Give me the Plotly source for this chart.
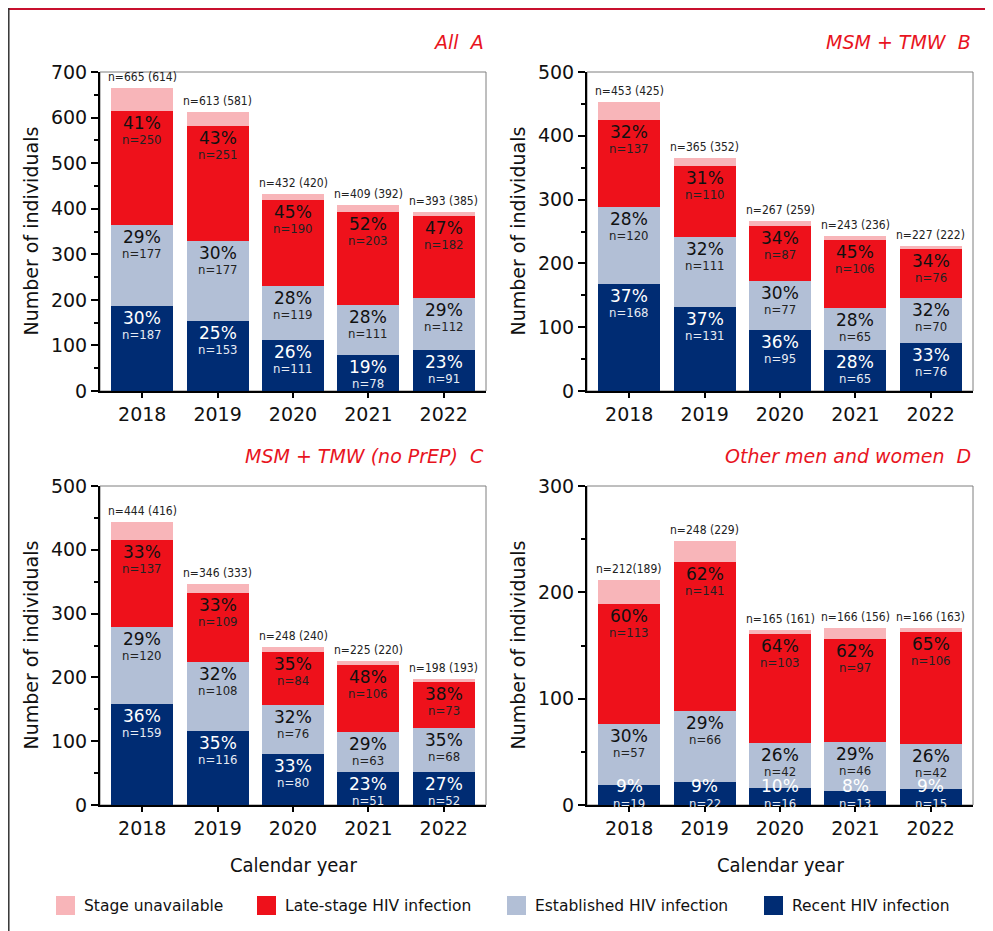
import plotly.graph_objects as go
from plotly.subplots import make_subplots

years = ["2018", "2019", "2020", "2021", "2022"]

# panel A: All
recent_a = [187, 153, 111, 78, 91]
estab_a = [177, 177, 119, 111, 112]
late_a = [250, 251, 190, 203, 182]
total_a = [665, 613, 432, 409, 393]
pct_recent_a = [30, 25, 26, 19, 23]
pct_estab_a = [29, 30, 28, 28, 29]
pct_late_a = [41, 43, 45, 52, 47]

# panel B: MSM + TMW
recent_b = [168, 131, 95, 65, 76]
estab_b = [120, 111, 77, 65, 70]
late_b = [137, 110, 87, 106, 76]
total_b = [453, 365, 267, 243, 227]
pct_recent_b = [37, 37, 36, 28, 33]
pct_estab_b = [28, 32, 30, 28, 32]
pct_late_b = [32, 31, 34, 45, 34]

# panel C: MSM + TMW (no PrEP)
recent_c = [159, 116, 80, 51, 52]
estab_c = [120, 108, 76, 63, 68]
late_c = [137, 109, 84, 106, 73]
total_c = [444, 346, 248, 225, 198]
pct_recent_c = [36, 35, 33, 23, 27]
pct_estab_c = [29, 32, 32, 29, 35]
pct_late_c = [33, 33, 35, 48, 38]

# panel D: Other men and women
recent_d = [19, 22, 16, 13, 15]
estab_d = [57, 66, 42, 46, 42]
late_d = [113, 141, 103, 97, 106]
total_d = [212, 248, 165, 166, 166]
pct_recent_d = [9, 9, 10, 8, 9]
pct_estab_d = [30, 29, 26, 29, 26]
pct_late_d = [60, 62, 64, 62, 65]

panel_titles = ["All  A", "MSM + TMW  B", "MSM + TMW (no PrEP)  C", "Other men and women  D"]
y_max = [700, 500, 500, 300]
legend_names = ["Stage unavailable", "Late-stage HIV infection",
                "Established HIV infection", "Recent HIV infection"]

C_UNAV = "#F8B5B9"
C_LATE = "#EE111B"
C_EST = "#B2BFD6"
C_REC = "#002C73"
TITLE_RED = "#E8141E"
FONT = "DejaVu Sans"
COND = "DejaVu Sans Condensed, Liberation Sans Narrow, DejaVu Sans"

W, H = 993, 931
OFF = 8  # page body margin


def fx(px):
    return (px - OFF) / W


def fy(py):
    return 1 - (py - OFF) / H


panels = [
    (recent_a, estab_a, late_a, total_a, pct_recent_a, pct_estab_a, pct_late_a),
    (recent_b, estab_b, late_b, total_b, pct_recent_b, pct_estab_b, pct_late_b),
    (recent_c, estab_c, late_c, total_c, pct_recent_c, pct_estab_c, pct_late_c),
    (recent_d, estab_d, late_d, total_d, pct_recent_d, pct_estab_d, pct_late_d),
]

# pixel boxes of the four plot areas (screen coords): left, right, top, bottom
boxes = [(100, 486, 72, 391), (587, 973, 72, 391),
         (100, 486, 486, 805), (587, 973, 486, 805)]

fig = make_subplots(rows=2, cols=2)
annotations = []
shapes = []

for i, (rec, est, late, tot, p_rec, p_est, p_late) in enumerate(panels):
    row, col = i // 2 + 1, i % 2 + 1
    staged = [a + b + c for a, b, c in zip(rec, est, late)]
    unav = [t - s for t, s in zip(tot, staged)]
    for vals, color, name in [(rec, C_REC, legend_names[3]), (est, C_EST, legend_names[2]),
                              (late, C_LATE, legend_names[1]), (unav, C_UNAV, legend_names[0])]:
        fig.add_trace(go.Bar(x=years, y=vals, marker=dict(color=color, line=dict(width=0)),
                             width=0.82, name=name, showlegend=False), row=row, col=col)

    xr = "x" if i == 0 else "x%d" % (i + 1)
    yr = "y" if i == 0 else "y%d" % (i + 1)
    l, r, t, b = boxes[i]
    scale = (b - t) / y_max[i]

    for j in range(len(years)):
        base = 0
        for vals, pcts, pc, nc in [(rec, p_rec, "white", "#E6EBF3"),
                                   (est, p_est, "#111", "#222"),
                                   (late, p_late, "#111", "#222")]:
            v = vals[j]
            top = base + v
            if v * scale >= 30:
                annotations.append(dict(x=j, y=top, xref=xr, yref=yr, yanchor="top",
                                        yshift=-1, text="%d%%" % pcts[j], showarrow=False,
                                        borderpad=0,
                                        font=dict(family=FONT, size=17, color=pc)))
                annotations.append(dict(x=j, y=top, xref=xr, yref=yr, yanchor="top",
                                        yshift=-20, text="n=%d" % v, showarrow=False,
                                        borderpad=0,
                                        font=dict(family=COND, size=13, color=nc)))
            else:
                annotations.append(dict(x=j, y=base, xref=xr, yref=yr, yanchor="bottom",
                                        yshift=8, text="%d%%" % pcts[j], showarrow=False,
                                        borderpad=0,
                                        font=dict(family=FONT, size=17, color=pc)))
                annotations.append(dict(x=j, y=base, xref=xr, yref=yr, yanchor="bottom",
                                        yshift=-7, text="n=%d" % v, showarrow=False,
                                        borderpad=0,
                                        font=dict(family=COND, size=13, color=nc)))
            base = top
        sep = "" if (i == 3 and j == 0) else " "
        annotations.append(dict(x=j, y=tot[j], xref=xr, yref=yr, yanchor="bottom",
                                yshift=2, text="n=%d%s(%d)" % (tot[j], sep, staged[j]),
                                showarrow=False, font=dict(family=COND, size=12, color="#222")))

    # panel title
    annotations.append(dict(x=fx(r), y=fy(t - 30), xref="paper", yref="paper",
                            xanchor="right", yanchor="middle", text=panel_titles[i],
                            showarrow=False,
                            font=dict(family=FONT, size=19, color=TITLE_RED, style="italic")))
    # y axis title
    annotations.append(dict(x=fx(l - 70), y=fy((t + b) / 2), xref="paper", yref="paper",
                            xanchor="center", yanchor="middle", textangle=-90,
                            text="Number of individuals", showarrow=False,
                            font=dict(family=FONT, size=19, color="#111")))
    # grey frame
    shapes.append(dict(type="rect", xref=xr + " domain", yref=yr + " domain",
                       x0=0, x1=1, y0=0, y1=1, line=dict(color="#7F7F7F", width=1),
                       layer="below"))

    fig.update_xaxes(domain=[fx(l), fx(r)], range=[-0.56, 4.56], type="category",
                     showline=True, linecolor="black", linewidth=2, ticks="outside",
                     ticklen=5, tickwidth=1.5, tickcolor="black", showgrid=False,
                     tickfont=dict(family=FONT, size=19, color="#111"), automargin=False,
                     row=row, col=col)
    fig.update_yaxes(domain=[fy(b), fy(t)], range=[0, y_max[i]], dtick=100,
                     showline=True, linecolor="black", linewidth=2, ticks="outside",
                     ticklen=7, tickwidth=1.5, tickcolor="black", showgrid=False,
                     zeroline=False, tickfont=dict(family=FONT, size=19, color="#111"),
                     minor=dict(ticks="outside", ticklen=4, dtick=50, tickcolor="black",
                                showgrid=False),
                     automargin=False, row=row, col=col)

# x axis titles
for cx in [293, 780]:
    annotations.append(dict(x=fx(cx), y=fy(865), xref="paper", yref="paper",
                            xanchor="center", yanchor="middle",
                            text="Calendar year", showarrow=False,
                            font=dict(family=COND, size=20, color="#111")))

# legend
legend_colors = [C_UNAV, C_LATE, C_EST, C_REC]
legend_x = [56, 257, 507, 764]
for name, color, lx in zip(legend_names, legend_colors, legend_x):
    shapes.append(dict(type="rect", xref="paper", yref="paper", x0=fx(lx), x1=fx(lx + 19),
                       y0=fy(915), y1=fy(896), fillcolor=color, line=dict(width=0)))
    annotations.append(dict(x=fx(lx + 26), y=fy(906), xref="paper", yref="paper",
                            xanchor="left", yanchor="middle", text=name, showarrow=False,
                            font=dict(family=FONT, size=15.5, color="#111")))

# outer frame lines
shapes.append(dict(type="line", xref="paper", yref="paper", x0=0, x1=1, y0=0.999, y1=0.999,
                   line=dict(color="#C8102E", width=2)))
shapes.append(dict(type="line", xref="paper", yref="paper", x0=0.0008, x1=0.0008, y0=0,
                   y1=1, line=dict(color="#333", width=1.5)))

fig.update_layout(width=W, height=H, barmode="stack", bargap=0.18,
                  plot_bgcolor="white", paper_bgcolor="white",
                  margin=dict(l=0, r=0, t=0, b=0), showlegend=False,
                  annotations=annotations, shapes=shapes,
                  font=dict(family=FONT))

fig.write_html("out.html")
